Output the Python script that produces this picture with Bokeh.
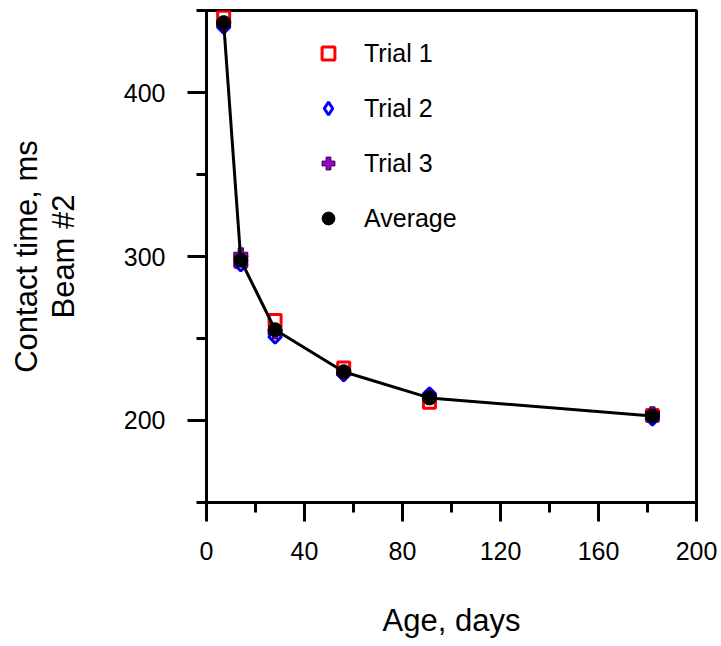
import numpy as np
from bokeh.plotting import figure
from bokeh.models import Range1d, SingleIntervalTicker, Legend, LegendItem, ColumnDataSource
from bokeh.embed import file_html
from bokeh.resources import INLINE

# ---- data ----
age_days = [7, 14, 28, 56, 91, 182]
trial1 = [446, 297, 261, 232, 211, 203]
trial2 = [440, 295, 251, 228, 216, 201]
trial3 = [442, 301, 254, 229, 214, 204]
average = [442.7, 297.7, 255.3, 229.7, 213.7, 202.7]

FONT = "Liberation Sans"

p = figure(width=721, height=646, output_backend="svg", toolbar_location=None,
           x_range=Range1d(0, 200), y_range=Range1d(149.9, 450.1),
           min_border_left=206, min_border_right=25, min_border_top=10, min_border_bottom=144)
p.grid.visible = False
p.background_fill_color = "white"
p.border_fill_color = "white"
p.outline_line_color = "black"
p.outline_line_width = 3

p.xaxis.ticker = SingleIntervalTicker(interval=40, num_minor_ticks=2)
p.yaxis.ticker = SingleIntervalTicker(interval=100, num_minor_ticks=2)

for ax in (p.xaxis[0], p.yaxis[0]):
    ax.axis_line_width = 3
    ax.axis_line_color = "black"
    ax.major_tick_line_width = 3
    ax.minor_tick_line_width = 3
    ax.major_tick_in = 0
    ax.minor_tick_in = 0
    ax.major_tick_out = 19
    ax.minor_tick_out = 10
    ax.major_label_text_font = FONT
    ax.major_label_text_font_size = "25px"
    ax.major_label_text_color = "black"
    ax.axis_label_text_font = FONT
    ax.axis_label_text_font_size = "31px"
    ax.axis_label_text_font_style = "normal"
    ax.axis_label_text_color = "black"

p.xaxis.axis_label = "Age, days"
p.xaxis.major_label_standoff = 20
p.xaxis.axis_label_standoff = 40
p.yaxis.axis_label = "Contact time, ms\nBeam #2"
p.yaxis.axis_label_text_line_height = 1.05
p.yaxis.major_label_standoff = 22
p.yaxis.axis_label_standoff = 40

src = ColumnDataSource(dict(x=age_days, t1=trial1, t2=trial2, t3=trial3, avg=average))

r1 = p.scatter("x", "t1", source=src, marker="square", size=12, fill_color="white",
               line_color="#ff0000", line_width=3)
# legend-only glyph for the diamond (legend markers ignore angle); hidden
r2_leg = p.scatter("x", "t2", source=src, marker="diamond", size=14, fill_color="white",
                   line_color="#0000ff", line_width=3, visible=False)
r2 = p.scatter("x", "t2", source=src, marker="square", size=9, angle=np.pi / 4,
               fill_color="white", line_color="#0000ff", line_width=3)
r3 = p.scatter("x", "t3", source=src, marker="plus", size=14, fill_color="#9900cc",
               line_color="#330044", line_width=1)
p.line("x", "avg", source=src, line_color="black", line_width=3)
r4 = p.scatter("x", "avg", source=src, marker="circle", size=14, fill_color="black",
               line_color="black")

legend = Legend(items=[LegendItem(label="Trial 1", renderers=[r1]),
                       LegendItem(label="Trial 2", renderers=[r2_leg]),
                       LegendItem(label="Trial 3", renderers=[r3]),
                       LegendItem(label="Average", renderers=[r4])],
                location=(106, 268))
legend.border_line_color = None
legend.background_fill_alpha = 0
legend.inactive_fill_alpha = 0
legend.padding = 0
legend.margin = 0
legend.spacing = 23
legend.glyph_width = 32
legend.glyph_height = 32
legend.label_height = 32
legend.label_standoff = 20
legend.label_text_font = FONT
legend.label_text_font_size = "25px"
legend.label_text_color = "black"
p.add_layout(legend)

open("out.html", "w").write(file_html(p, INLINE))
